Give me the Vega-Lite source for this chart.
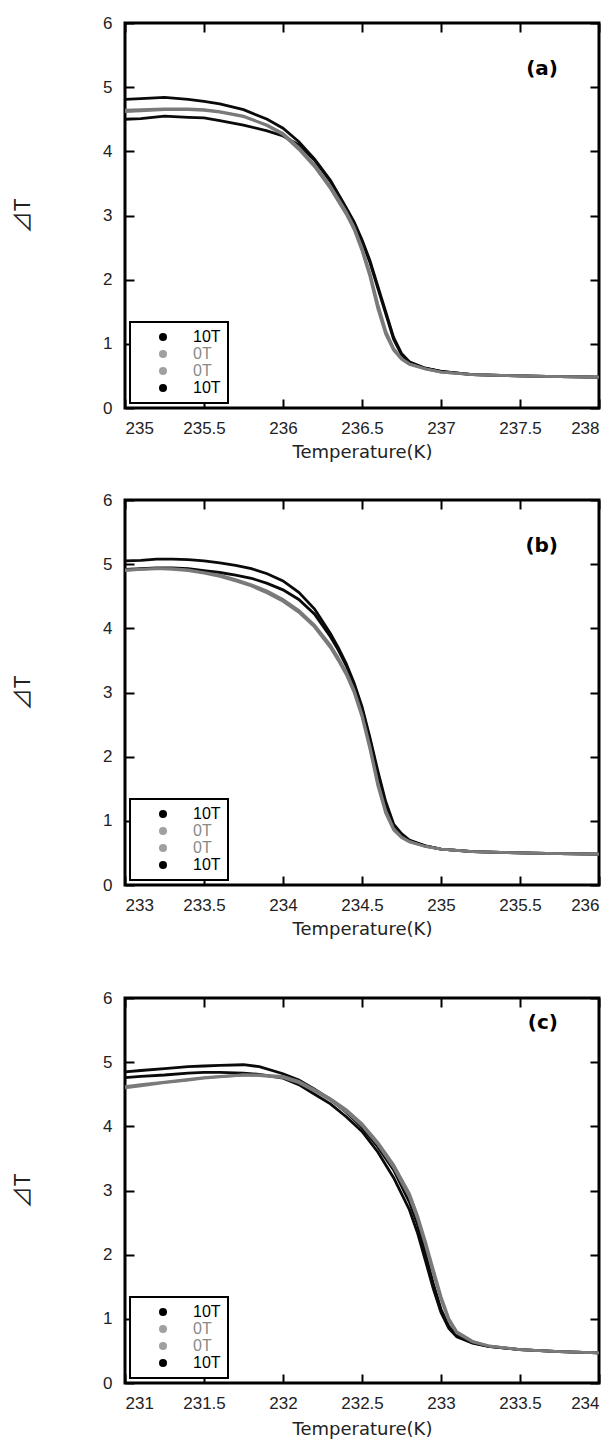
{
  "$schema": "https://vega.github.io/schema/vega-lite/v6.json",
  "padding": {"left": 10, "top": 12, "right": 0, "bottom": 0},
  "spacing": 26,
  "resolve": {"scale": {"fill": "independent", "stroke": "independent"}, "legend": {"fill": "independent", "stroke": "independent"}},
  "config": {
    "view": {"stroke": "black", "strokeWidth": 3},
    "axis": {"grid": false, "domain": false, "ticks": true, "tickColor": "black", "tickWidth": 2, "tickSize": -9, "labelFont": "Liberation Sans", "labelFontSize": 17, "labelColor": "#222222", "titleFont": "DejaVu Sans", "titleFontSize": 18, "titleFontWeight": "normal", "titleColor": "#222222"},
    "axisBottom": {"labelPadding": 21, "titlePadding": 7},
    "axisLeft": {"labelPadding": 22, "titlePadding": 68, "titleFont": "Noto Sans CJK JP", "titleFontSize": 22},
    "legend": {"orient": "bottom-left", "offset": 5, "title": null, "fillColor": "white", "strokeColor": "black", "strokeWidth": 2, "padding": 7, "symbolType": "circle", "symbolSize": 64, "symbolOpacity": 1, "symbolStrokeWidth": 0, "labelFont": "Liberation Sans", "labelFontSize": 16, "labelOffset": 22, "symbolOffset": 18, "rowPadding": 1, "labelLimit": 100},
    "title": {"anchor": "end", "frame": "group", "offset": -65, "dx": -41, "font": "DejaVu Sans", "fontSize": 20, "color": "black"}
  },
  "datasets": {
    "a": [
      {"run": "10T_1", "T": 235.0, "dT": 4.81}, {"run": "10T_1", "T": 235.1, "dT": 4.82}, {"run": "10T_1", "T": 235.25, "dT": 4.84}, {"run": "10T_1", "T": 235.4, "dT": 4.81}, {"run": "10T_1", "T": 235.5, "dT": 4.78}, {"run": "10T_1", "T": 235.6, "dT": 4.74}, {"run": "10T_1", "T": 235.75, "dT": 4.65}, {"run": "10T_1", "T": 235.9, "dT": 4.5}, {"run": "10T_1", "T": 236.0, "dT": 4.36}, {"run": "10T_1", "T": 236.1, "dT": 4.15}, {"run": "10T_1", "T": 236.2, "dT": 3.88}, {"run": "10T_1", "T": 236.3, "dT": 3.55}, {"run": "10T_1", "T": 236.4, "dT": 3.12}, {"run": "10T_1", "T": 236.45, "dT": 2.9}, {"run": "10T_1", "T": 236.5, "dT": 2.62}, {"run": "10T_1", "T": 236.55, "dT": 2.3}, {"run": "10T_1", "T": 236.6, "dT": 1.9}, {"run": "10T_1", "T": 236.65, "dT": 1.5}, {"run": "10T_1", "T": 236.7, "dT": 1.1}, {"run": "10T_1", "T": 236.75, "dT": 0.85}, {"run": "10T_1", "T": 236.8, "dT": 0.72}, {"run": "10T_1", "T": 236.9, "dT": 0.62}, {"run": "10T_1", "T": 237.0, "dT": 0.57}, {"run": "10T_1", "T": 237.2, "dT": 0.52}, {"run": "10T_1", "T": 237.5, "dT": 0.5}, {"run": "10T_1", "T": 237.75, "dT": 0.49}, {"run": "10T_1", "T": 238.0, "dT": 0.48},
      {"run": "10T_2", "T": 235.0, "dT": 4.5}, {"run": "10T_2", "T": 235.1, "dT": 4.51}, {"run": "10T_2", "T": 235.25, "dT": 4.55}, {"run": "10T_2", "T": 235.4, "dT": 4.53}, {"run": "10T_2", "T": 235.5, "dT": 4.52}, {"run": "10T_2", "T": 235.6, "dT": 4.48}, {"run": "10T_2", "T": 235.75, "dT": 4.41}, {"run": "10T_2", "T": 235.9, "dT": 4.32}, {"run": "10T_2", "T": 236.0, "dT": 4.24}, {"run": "10T_2", "T": 236.1, "dT": 4.1}, {"run": "10T_2", "T": 236.2, "dT": 3.86}, {"run": "10T_2", "T": 236.3, "dT": 3.53}, {"run": "10T_2", "T": 236.4, "dT": 3.1}, {"run": "10T_2", "T": 236.45, "dT": 2.88}, {"run": "10T_2", "T": 236.5, "dT": 2.6}, {"run": "10T_2", "T": 236.55, "dT": 2.27}, {"run": "10T_2", "T": 236.6, "dT": 1.87}, {"run": "10T_2", "T": 236.65, "dT": 1.47}, {"run": "10T_2", "T": 236.7, "dT": 1.07}, {"run": "10T_2", "T": 236.75, "dT": 0.83}, {"run": "10T_2", "T": 236.8, "dT": 0.71}, {"run": "10T_2", "T": 236.9, "dT": 0.62}, {"run": "10T_2", "T": 237.0, "dT": 0.57}, {"run": "10T_2", "T": 237.2, "dT": 0.52}, {"run": "10T_2", "T": 237.5, "dT": 0.5}, {"run": "10T_2", "T": 237.75, "dT": 0.49}, {"run": "10T_2", "T": 238.0, "dT": 0.48},
      {"run": "0T_1", "T": 235.0, "dT": 4.64}, {"run": "0T_1", "T": 235.1, "dT": 4.65}, {"run": "0T_1", "T": 235.25, "dT": 4.66}, {"run": "0T_1", "T": 235.4, "dT": 4.66}, {"run": "0T_1", "T": 235.5, "dT": 4.65}, {"run": "0T_1", "T": 235.6, "dT": 4.62}, {"run": "0T_1", "T": 235.75, "dT": 4.55}, {"run": "0T_1", "T": 235.9, "dT": 4.4}, {"run": "0T_1", "T": 236.0, "dT": 4.26}, {"run": "0T_1", "T": 236.1, "dT": 4.03}, {"run": "0T_1", "T": 236.2, "dT": 3.76}, {"run": "0T_1", "T": 236.3, "dT": 3.42}, {"run": "0T_1", "T": 236.4, "dT": 3.02}, {"run": "0T_1", "T": 236.45, "dT": 2.78}, {"run": "0T_1", "T": 236.5, "dT": 2.45}, {"run": "0T_1", "T": 236.55, "dT": 2.05}, {"run": "0T_1", "T": 236.6, "dT": 1.55}, {"run": "0T_1", "T": 236.65, "dT": 1.15}, {"run": "0T_1", "T": 236.7, "dT": 0.9}, {"run": "0T_1", "T": 236.75, "dT": 0.76}, {"run": "0T_1", "T": 236.8, "dT": 0.68}, {"run": "0T_1", "T": 236.9, "dT": 0.61}, {"run": "0T_1", "T": 237.0, "dT": 0.56}, {"run": "0T_1", "T": 237.2, "dT": 0.52}, {"run": "0T_1", "T": 237.5, "dT": 0.5}, {"run": "0T_1", "T": 237.75, "dT": 0.49}, {"run": "0T_1", "T": 238.0, "dT": 0.48},
      {"run": "0T_2", "T": 235.0, "dT": 4.62}, {"run": "0T_2", "T": 235.1, "dT": 4.63}, {"run": "0T_2", "T": 235.25, "dT": 4.65}, {"run": "0T_2", "T": 235.4, "dT": 4.65}, {"run": "0T_2", "T": 235.5, "dT": 4.64}, {"run": "0T_2", "T": 235.6, "dT": 4.61}, {"run": "0T_2", "T": 235.75, "dT": 4.54}, {"run": "0T_2", "T": 235.9, "dT": 4.41}, {"run": "0T_2", "T": 236.0, "dT": 4.28}, {"run": "0T_2", "T": 236.1, "dT": 4.06}, {"run": "0T_2", "T": 236.2, "dT": 3.79}, {"run": "0T_2", "T": 236.3, "dT": 3.46}, {"run": "0T_2", "T": 236.4, "dT": 3.06}, {"run": "0T_2", "T": 236.45, "dT": 2.82}, {"run": "0T_2", "T": 236.5, "dT": 2.5}, {"run": "0T_2", "T": 236.55, "dT": 2.1}, {"run": "0T_2", "T": 236.6, "dT": 1.62}, {"run": "0T_2", "T": 236.65, "dT": 1.2}, {"run": "0T_2", "T": 236.7, "dT": 0.93}, {"run": "0T_2", "T": 236.75, "dT": 0.77}, {"run": "0T_2", "T": 236.8, "dT": 0.69}, {"run": "0T_2", "T": 236.9, "dT": 0.61}, {"run": "0T_2", "T": 237.0, "dT": 0.56}, {"run": "0T_2", "T": 237.2, "dT": 0.52}, {"run": "0T_2", "T": 237.5, "dT": 0.5}, {"run": "0T_2", "T": 237.75, "dT": 0.49}, {"run": "0T_2", "T": 238.0, "dT": 0.48}
    ],
    "b": [
      {"run": "10T_1", "T": 233.0, "dT": 5.05}, {"run": "10T_1", "T": 233.1, "dT": 5.06}, {"run": "10T_1", "T": 233.2, "dT": 5.08}, {"run": "10T_1", "T": 233.3, "dT": 5.08}, {"run": "10T_1", "T": 233.4, "dT": 5.07}, {"run": "10T_1", "T": 233.5, "dT": 5.05}, {"run": "10T_1", "T": 233.6, "dT": 5.02}, {"run": "10T_1", "T": 233.7, "dT": 4.98}, {"run": "10T_1", "T": 233.8, "dT": 4.93}, {"run": "10T_1", "T": 233.9, "dT": 4.85}, {"run": "10T_1", "T": 234.0, "dT": 4.74}, {"run": "10T_1", "T": 234.1, "dT": 4.56}, {"run": "10T_1", "T": 234.2, "dT": 4.3}, {"run": "10T_1", "T": 234.3, "dT": 3.92}, {"run": "10T_1", "T": 234.35, "dT": 3.7}, {"run": "10T_1", "T": 234.4, "dT": 3.45}, {"run": "10T_1", "T": 234.45, "dT": 3.15}, {"run": "10T_1", "T": 234.5, "dT": 2.78}, {"run": "10T_1", "T": 234.55, "dT": 2.3}, {"run": "10T_1", "T": 234.6, "dT": 1.78}, {"run": "10T_1", "T": 234.65, "dT": 1.3}, {"run": "10T_1", "T": 234.7, "dT": 0.95}, {"run": "10T_1", "T": 234.75, "dT": 0.8}, {"run": "10T_1", "T": 234.8, "dT": 0.7}, {"run": "10T_1", "T": 234.9, "dT": 0.61}, {"run": "10T_1", "T": 235.0, "dT": 0.56}, {"run": "10T_1", "T": 235.2, "dT": 0.52}, {"run": "10T_1", "T": 235.5, "dT": 0.5}, {"run": "10T_1", "T": 235.75, "dT": 0.49}, {"run": "10T_1", "T": 236.0, "dT": 0.48},
      {"run": "10T_2", "T": 233.0, "dT": 4.92}, {"run": "10T_2", "T": 233.1, "dT": 4.93}, {"run": "10T_2", "T": 233.2, "dT": 4.94}, {"run": "10T_2", "T": 233.3, "dT": 4.94}, {"run": "10T_2", "T": 233.4, "dT": 4.93}, {"run": "10T_2", "T": 233.5, "dT": 4.9}, {"run": "10T_2", "T": 233.6, "dT": 4.87}, {"run": "10T_2", "T": 233.7, "dT": 4.83}, {"run": "10T_2", "T": 233.8, "dT": 4.78}, {"run": "10T_2", "T": 233.9, "dT": 4.7}, {"run": "10T_2", "T": 234.0, "dT": 4.6}, {"run": "10T_2", "T": 234.1, "dT": 4.45}, {"run": "10T_2", "T": 234.2, "dT": 4.22}, {"run": "10T_2", "T": 234.3, "dT": 3.87}, {"run": "10T_2", "T": 234.35, "dT": 3.66}, {"run": "10T_2", "T": 234.4, "dT": 3.42}, {"run": "10T_2", "T": 234.45, "dT": 3.12}, {"run": "10T_2", "T": 234.5, "dT": 2.75}, {"run": "10T_2", "T": 234.55, "dT": 2.26}, {"run": "10T_2", "T": 234.6, "dT": 1.74}, {"run": "10T_2", "T": 234.65, "dT": 1.26}, {"run": "10T_2", "T": 234.7, "dT": 0.93}, {"run": "10T_2", "T": 234.75, "dT": 0.78}, {"run": "10T_2", "T": 234.8, "dT": 0.69}, {"run": "10T_2", "T": 234.9, "dT": 0.61}, {"run": "10T_2", "T": 235.0, "dT": 0.56}, {"run": "10T_2", "T": 235.2, "dT": 0.52}, {"run": "10T_2", "T": 235.5, "dT": 0.5}, {"run": "10T_2", "T": 235.75, "dT": 0.49}, {"run": "10T_2", "T": 236.0, "dT": 0.48},
      {"run": "0T_1", "T": 233.0, "dT": 4.9}, {"run": "0T_1", "T": 233.1, "dT": 4.92}, {"run": "0T_1", "T": 233.2, "dT": 4.93}, {"run": "0T_1", "T": 233.3, "dT": 4.92}, {"run": "0T_1", "T": 233.4, "dT": 4.9}, {"run": "0T_1", "T": 233.5, "dT": 4.86}, {"run": "0T_1", "T": 233.6, "dT": 4.81}, {"run": "0T_1", "T": 233.7, "dT": 4.74}, {"run": "0T_1", "T": 233.8, "dT": 4.66}, {"run": "0T_1", "T": 233.9, "dT": 4.55}, {"run": "0T_1", "T": 234.0, "dT": 4.42}, {"run": "0T_1", "T": 234.1, "dT": 4.25}, {"run": "0T_1", "T": 234.2, "dT": 4.02}, {"run": "0T_1", "T": 234.3, "dT": 3.7}, {"run": "0T_1", "T": 234.35, "dT": 3.5}, {"run": "0T_1", "T": 234.4, "dT": 3.28}, {"run": "0T_1", "T": 234.45, "dT": 3.0}, {"run": "0T_1", "T": 234.5, "dT": 2.62}, {"run": "0T_1", "T": 234.55, "dT": 2.12}, {"run": "0T_1", "T": 234.6, "dT": 1.55}, {"run": "0T_1", "T": 234.65, "dT": 1.12}, {"run": "0T_1", "T": 234.7, "dT": 0.86}, {"run": "0T_1", "T": 234.75, "dT": 0.74}, {"run": "0T_1", "T": 234.8, "dT": 0.67}, {"run": "0T_1", "T": 234.9, "dT": 0.6}, {"run": "0T_1", "T": 235.0, "dT": 0.56}, {"run": "0T_1", "T": 235.2, "dT": 0.52}, {"run": "0T_1", "T": 235.5, "dT": 0.5}, {"run": "0T_1", "T": 235.75, "dT": 0.49}, {"run": "0T_1", "T": 236.0, "dT": 0.48},
      {"run": "0T_2", "T": 233.0, "dT": 4.91}, {"run": "0T_2", "T": 233.1, "dT": 4.92}, {"run": "0T_2", "T": 233.2, "dT": 4.93}, {"run": "0T_2", "T": 233.3, "dT": 4.93}, {"run": "0T_2", "T": 233.4, "dT": 4.91}, {"run": "0T_2", "T": 233.5, "dT": 4.87}, {"run": "0T_2", "T": 233.6, "dT": 4.83}, {"run": "0T_2", "T": 233.7, "dT": 4.76}, {"run": "0T_2", "T": 233.8, "dT": 4.68}, {"run": "0T_2", "T": 233.9, "dT": 4.58}, {"run": "0T_2", "T": 234.0, "dT": 4.45}, {"run": "0T_2", "T": 234.1, "dT": 4.28}, {"run": "0T_2", "T": 234.2, "dT": 4.05}, {"run": "0T_2", "T": 234.3, "dT": 3.74}, {"run": "0T_2", "T": 234.35, "dT": 3.54}, {"run": "0T_2", "T": 234.4, "dT": 3.32}, {"run": "0T_2", "T": 234.45, "dT": 3.04}, {"run": "0T_2", "T": 234.5, "dT": 2.66}, {"run": "0T_2", "T": 234.55, "dT": 2.16}, {"run": "0T_2", "T": 234.6, "dT": 1.6}, {"run": "0T_2", "T": 234.65, "dT": 1.16}, {"run": "0T_2", "T": 234.7, "dT": 0.88}, {"run": "0T_2", "T": 234.75, "dT": 0.75}, {"run": "0T_2", "T": 234.8, "dT": 0.68}, {"run": "0T_2", "T": 234.9, "dT": 0.6}, {"run": "0T_2", "T": 235.0, "dT": 0.56}, {"run": "0T_2", "T": 235.2, "dT": 0.52}, {"run": "0T_2", "T": 235.5, "dT": 0.5}, {"run": "0T_2", "T": 235.75, "dT": 0.49}, {"run": "0T_2", "T": 236.0, "dT": 0.48}
    ],
    "c": [
      {"run": "10T_1", "T": 231.0, "dT": 4.85}, {"run": "10T_1", "T": 231.1, "dT": 4.87}, {"run": "10T_1", "T": 231.25, "dT": 4.9}, {"run": "10T_1", "T": 231.4, "dT": 4.93}, {"run": "10T_1", "T": 231.5, "dT": 4.94}, {"run": "10T_1", "T": 231.6, "dT": 4.95}, {"run": "10T_1", "T": 231.75, "dT": 4.96}, {"run": "10T_1", "T": 231.85, "dT": 4.93}, {"run": "10T_1", "T": 232.0, "dT": 4.82}, {"run": "10T_1", "T": 232.1, "dT": 4.72}, {"run": "10T_1", "T": 232.2, "dT": 4.58}, {"run": "10T_1", "T": 232.3, "dT": 4.42}, {"run": "10T_1", "T": 232.4, "dT": 4.22}, {"run": "10T_1", "T": 232.5, "dT": 3.98}, {"run": "10T_1", "T": 232.6, "dT": 3.68}, {"run": "10T_1", "T": 232.7, "dT": 3.32}, {"run": "10T_1", "T": 232.8, "dT": 2.82}, {"run": "10T_1", "T": 232.85, "dT": 2.48}, {"run": "10T_1", "T": 232.9, "dT": 2.04}, {"run": "10T_1", "T": 232.95, "dT": 1.56}, {"run": "10T_1", "T": 233.0, "dT": 1.15}, {"run": "10T_1", "T": 233.05, "dT": 0.88}, {"run": "10T_1", "T": 233.1, "dT": 0.74}, {"run": "10T_1", "T": 233.2, "dT": 0.63}, {"run": "10T_1", "T": 233.3, "dT": 0.57}, {"run": "10T_1", "T": 233.5, "dT": 0.52}, {"run": "10T_1", "T": 233.75, "dT": 0.49}, {"run": "10T_1", "T": 234.0, "dT": 0.47},
      {"run": "10T_2", "T": 231.0, "dT": 4.76}, {"run": "10T_2", "T": 231.1, "dT": 4.78}, {"run": "10T_2", "T": 231.25, "dT": 4.8}, {"run": "10T_2", "T": 231.4, "dT": 4.83}, {"run": "10T_2", "T": 231.5, "dT": 4.84}, {"run": "10T_2", "T": 231.6, "dT": 4.84}, {"run": "10T_2", "T": 231.75, "dT": 4.83}, {"run": "10T_2", "T": 231.85, "dT": 4.81}, {"run": "10T_2", "T": 232.0, "dT": 4.75}, {"run": "10T_2", "T": 232.1, "dT": 4.65}, {"run": "10T_2", "T": 232.2, "dT": 4.5}, {"run": "10T_2", "T": 232.3, "dT": 4.35}, {"run": "10T_2", "T": 232.4, "dT": 4.15}, {"run": "10T_2", "T": 232.5, "dT": 3.92}, {"run": "10T_2", "T": 232.6, "dT": 3.6}, {"run": "10T_2", "T": 232.7, "dT": 3.2}, {"run": "10T_2", "T": 232.8, "dT": 2.7}, {"run": "10T_2", "T": 232.85, "dT": 2.35}, {"run": "10T_2", "T": 232.9, "dT": 1.92}, {"run": "10T_2", "T": 232.95, "dT": 1.48}, {"run": "10T_2", "T": 233.0, "dT": 1.1}, {"run": "10T_2", "T": 233.05, "dT": 0.85}, {"run": "10T_2", "T": 233.1, "dT": 0.72}, {"run": "10T_2", "T": 233.2, "dT": 0.62}, {"run": "10T_2", "T": 233.3, "dT": 0.57}, {"run": "10T_2", "T": 233.5, "dT": 0.52}, {"run": "10T_2", "T": 233.75, "dT": 0.49}, {"run": "10T_2", "T": 234.0, "dT": 0.47},
      {"run": "0T_1", "T": 231.0, "dT": 4.6}, {"run": "0T_1", "T": 231.1, "dT": 4.63}, {"run": "0T_1", "T": 231.25, "dT": 4.68}, {"run": "0T_1", "T": 231.4, "dT": 4.72}, {"run": "0T_1", "T": 231.5, "dT": 4.75}, {"run": "0T_1", "T": 231.6, "dT": 4.77}, {"run": "0T_1", "T": 231.75, "dT": 4.8}, {"run": "0T_1", "T": 231.85, "dT": 4.8}, {"run": "0T_1", "T": 232.0, "dT": 4.78}, {"run": "0T_1", "T": 232.1, "dT": 4.7}, {"run": "0T_1", "T": 232.2, "dT": 4.57}, {"run": "0T_1", "T": 232.3, "dT": 4.43}, {"run": "0T_1", "T": 232.4, "dT": 4.26}, {"run": "0T_1", "T": 232.5, "dT": 4.04}, {"run": "0T_1", "T": 232.6, "dT": 3.75}, {"run": "0T_1", "T": 232.7, "dT": 3.4}, {"run": "0T_1", "T": 232.8, "dT": 2.95}, {"run": "0T_1", "T": 232.85, "dT": 2.62}, {"run": "0T_1", "T": 232.9, "dT": 2.22}, {"run": "0T_1", "T": 232.95, "dT": 1.78}, {"run": "0T_1", "T": 233.0, "dT": 1.35}, {"run": "0T_1", "T": 233.05, "dT": 1.0}, {"run": "0T_1", "T": 233.1, "dT": 0.8}, {"run": "0T_1", "T": 233.2, "dT": 0.65}, {"run": "0T_1", "T": 233.3, "dT": 0.58}, {"run": "0T_1", "T": 233.5, "dT": 0.52}, {"run": "0T_1", "T": 233.75, "dT": 0.49}, {"run": "0T_1", "T": 234.0, "dT": 0.47},
      {"run": "0T_2", "T": 231.0, "dT": 4.62}, {"run": "0T_2", "T": 231.1, "dT": 4.65}, {"run": "0T_2", "T": 231.25, "dT": 4.69}, {"run": "0T_2", "T": 231.4, "dT": 4.73}, {"run": "0T_2", "T": 231.5, "dT": 4.76}, {"run": "0T_2", "T": 231.6, "dT": 4.78}, {"run": "0T_2", "T": 231.75, "dT": 4.8}, {"run": "0T_2", "T": 231.85, "dT": 4.79}, {"run": "0T_2", "T": 232.0, "dT": 4.76}, {"run": "0T_2", "T": 232.1, "dT": 4.68}, {"run": "0T_2", "T": 232.2, "dT": 4.55}, {"run": "0T_2", "T": 232.3, "dT": 4.41}, {"run": "0T_2", "T": 232.4, "dT": 4.23}, {"run": "0T_2", "T": 232.5, "dT": 4.01}, {"run": "0T_2", "T": 232.6, "dT": 3.72}, {"run": "0T_2", "T": 232.7, "dT": 3.36}, {"run": "0T_2", "T": 232.8, "dT": 2.9}, {"run": "0T_2", "T": 232.85, "dT": 2.57}, {"run": "0T_2", "T": 232.9, "dT": 2.17}, {"run": "0T_2", "T": 232.95, "dT": 1.72}, {"run": "0T_2", "T": 233.0, "dT": 1.3}, {"run": "0T_2", "T": 233.05, "dT": 0.97}, {"run": "0T_2", "T": 233.1, "dT": 0.78}, {"run": "0T_2", "T": 233.2, "dT": 0.64}, {"run": "0T_2", "T": 233.3, "dT": 0.58}, {"run": "0T_2", "T": 233.5, "dT": 0.52}, {"run": "0T_2", "T": 233.75, "dT": 0.49}, {"run": "0T_2", "T": 234.0, "dT": 0.47}
    ]
  },
  "vconcat": [
    {
      "width": 474, "height": 385,
      "data": {"name": "a"},
      "title": {"text": "(a)", "fontWeight": "bold"},
      "layer": [
        {
          "mark": {"type": "line", "strokeWidth": 2.8},
          "encoding": {
            "x": {"field": "T", "type": "quantitative", "scale": {"domain": [235, 238], "nice": false, "zero": false}, "axis": {"orient": "bottom", "values": [235, 235.5, 236, 236.5, 237, 237.5, 238], "format": "~g", "title": "Temperature(K)"}},
            "y": {"field": "dT", "type": "quantitative", "scale": {"domain": [0, 6], "nice": false, "zero": false}, "axis": {"orient": "left", "values": [0, 1, 2, 3, 4, 5, 6], "format": "d", "title": "⊿T"}},
            "stroke": {"field": "run", "type": "nominal", "scale": {"domain": ["0T_1", "0T_2", "10T_1", "10T_2"], "range": ["#7a7a7a", "#7a7a7a", "#0a0a0a", "#0a0a0a"]}, "legend": null}
          }
        },
        {
          "mark": {"type": "point", "filled": true, "opacity": 0, "size": 64},
          "encoding": {
            "x": {"field": "T", "type": "quantitative", "axis": {"orient": "top", "values": [235, 235.5, 236, 236.5, 237, 237.5, 238], "labels": false, "title": null}},
            "y": {"field": "dT", "type": "quantitative", "axis": {"orient": "right", "values": [0, 1, 2, 3, 4, 5, 6], "labels": false, "title": null}},
            "fill": {"field": "run", "type": "nominal", "scale": {"domain": ["10T_1", "0T_1", "0T_2", "10T_2"], "range": ["#000000", "#a0a0a0", "#a0a0a0", "#000000"]}, "legend": {"labelExpr": "split(datum.label, '_')[0]", "labelColor": {"expr": "indexof(datum.label, '0T') == 0 ? '#8a8a8a' : '#000000'"}}}
          }
        }
      ]
    },
    {
      "width": 474, "height": 385,
      "data": {"name": "b"},
      "title": {"text": "(b)"},
      "layer": [
        {
          "mark": {"type": "line", "strokeWidth": 2.8},
          "encoding": {
            "x": {"field": "T", "type": "quantitative", "scale": {"domain": [233, 236], "nice": false, "zero": false}, "axis": {"orient": "bottom", "values": [233, 233.5, 234, 234.5, 235, 235.5, 236], "format": "~g", "title": "Temperature(K)"}},
            "y": {"field": "dT", "type": "quantitative", "scale": {"domain": [0, 6], "nice": false, "zero": false}, "axis": {"orient": "left", "values": [0, 1, 2, 3, 4, 5, 6], "format": "d", "title": "⊿T"}},
            "stroke": {"field": "run", "type": "nominal", "scale": {"domain": ["0T_1", "0T_2", "10T_1", "10T_2"], "range": ["#7a7a7a", "#7a7a7a", "#0a0a0a", "#0a0a0a"]}, "legend": null}
          }
        },
        {
          "mark": {"type": "point", "filled": true, "opacity": 0, "size": 64},
          "encoding": {
            "x": {"field": "T", "type": "quantitative", "axis": {"orient": "top", "values": [233, 233.5, 234, 234.5, 235, 235.5, 236], "labels": false, "title": null}},
            "y": {"field": "dT", "type": "quantitative", "axis": {"orient": "right", "values": [0, 1, 2, 3, 4, 5, 6], "labels": false, "title": null}},
            "fill": {"field": "run", "type": "nominal", "scale": {"domain": ["10T_1", "0T_1", "0T_2", "10T_2"], "range": ["#000000", "#a0a0a0", "#a0a0a0", "#000000"]}, "legend": {"labelExpr": "split(datum.label, '_')[0]", "labelColor": {"expr": "indexof(datum.label, '0T') == 0 ? '#8a8a8a' : '#000000'"}}}
          }
        }
      ]
    },
    {
      "width": 474, "height": 385,
      "data": {"name": "c"},
      "title": {"text": "(c)"},
      "layer": [
        {
          "mark": {"type": "line", "strokeWidth": 2.8},
          "encoding": {
            "x": {"field": "T", "type": "quantitative", "scale": {"domain": [231, 234], "nice": false, "zero": false}, "axis": {"orient": "bottom", "values": [231, 231.5, 232, 232.5, 233, 233.5, 234], "format": "~g", "title": "Temperature(K)", "titlePadding": 9}},
            "y": {"field": "dT", "type": "quantitative", "scale": {"domain": [0, 6], "nice": false, "zero": false}, "axis": {"orient": "left", "values": [0, 1, 2, 3, 4, 5, 6], "format": "d", "title": "⊿T"}},
            "stroke": {"field": "run", "type": "nominal", "scale": {"domain": ["0T_1", "0T_2", "10T_1", "10T_2"], "range": ["#7a7a7a", "#7a7a7a", "#0a0a0a", "#0a0a0a"]}, "legend": null}
          }
        },
        {
          "mark": {"type": "point", "filled": true, "opacity": 0, "size": 64},
          "encoding": {
            "x": {"field": "T", "type": "quantitative", "axis": {"orient": "top", "values": [231, 231.5, 232, 232.5, 233, 233.5, 234], "labels": false, "title": null, "minExtent": 30}},
            "y": {"field": "dT", "type": "quantitative", "axis": {"orient": "right", "values": [0, 1, 2, 3, 4, 5, 6], "labels": false, "title": null}},
            "fill": {"field": "run", "type": "nominal", "scale": {"domain": ["10T_1", "0T_1", "0T_2", "10T_2"], "range": ["#000000", "#a0a0a0", "#a0a0a0", "#000000"]}, "legend": {"labelExpr": "split(datum.label, '_')[0]", "labelColor": {"expr": "indexof(datum.label, '0T') == 0 ? '#8a8a8a' : '#000000'"}}}
          }
        }
      ]
    }
  ]
}
